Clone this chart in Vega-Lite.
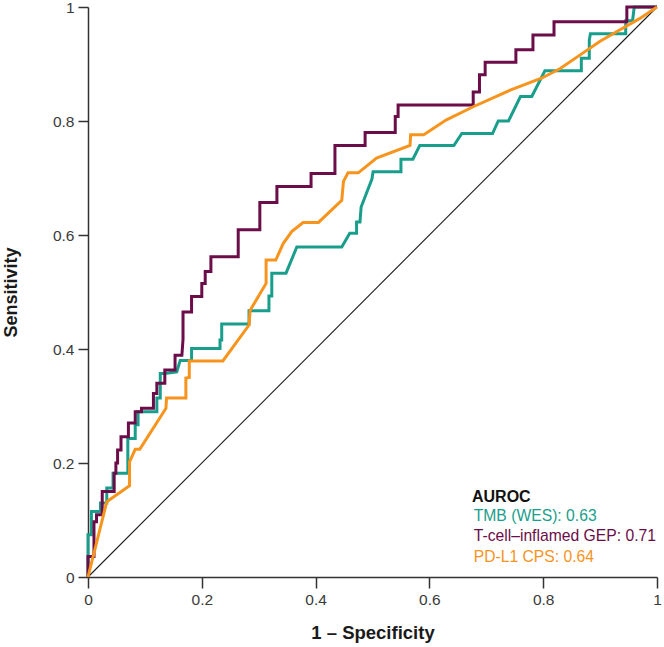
{
  "$schema": "https://vega.github.io/schema/vega-lite/v6.json",
  "width": 569,
  "height": 570,
  "autosize": {"type": "none"},
  "padding": {"left": 88, "top": 7, "right": 7, "bottom": 70},
  "background": "white",
  "config": {
    "view": {"stroke": null},
    "font": "Liberation Sans",
    "axis": {"grid": false}
  },
  "layer": [
    {
      "data": {"values": [{"x": 0, "y": 0}, {"x": 1, "y": 1}]},
      "mark": {"type": "line", "color": "#1a1a1a", "strokeWidth": 1.1},
      "encoding": {
        "x": {"field": "x", "type": "quantitative"},
        "y": {"field": "y", "type": "quantitative"}
      }
    },
    {
      "data": {"values": [
        {"s":"TMB (WES): 0.63","i":1,"x":0,"y":0},
        {"s":"TMB (WES): 0.63","i":2,"x":0,"y":0.074},
        {"s":"TMB (WES): 0.63","i":3,"x":0.006,"y":0.074},
        {"s":"TMB (WES): 0.63","i":4,"x":0.006,"y":0.115},
        {"s":"TMB (WES): 0.63","i":5,"x":0.022,"y":0.115},
        {"s":"TMB (WES): 0.63","i":6,"x":0.022,"y":0.13},
        {"s":"TMB (WES): 0.63","i":7,"x":0.033,"y":0.13},
        {"s":"TMB (WES): 0.63","i":8,"x":0.033,"y":0.156},
        {"s":"TMB (WES): 0.63","i":9,"x":0.044,"y":0.156},
        {"s":"TMB (WES): 0.63","i":10,"x":0.044,"y":0.182},
        {"s":"TMB (WES): 0.63","i":11,"x":0.07,"y":0.182},
        {"s":"TMB (WES): 0.63","i":12,"x":0.07,"y":0.243},
        {"s":"TMB (WES): 0.63","i":13,"x":0.083,"y":0.243},
        {"s":"TMB (WES): 0.63","i":14,"x":0.083,"y":0.267},
        {"s":"TMB (WES): 0.63","i":15,"x":0.088,"y":0.267},
        {"s":"TMB (WES): 0.63","i":16,"x":0.088,"y":0.29},
        {"s":"TMB (WES): 0.63","i":17,"x":0.121,"y":0.29},
        {"s":"TMB (WES): 0.63","i":18,"x":0.121,"y":0.314},
        {"s":"TMB (WES): 0.63","i":19,"x":0.127,"y":0.314},
        {"s":"TMB (WES): 0.63","i":20,"x":0.127,"y":0.357},
        {"s":"TMB (WES): 0.63","i":21,"x":0.135,"y":0.357},
        {"s":"TMB (WES): 0.63","i":22,"x":0.156,"y":0.36},
        {"s":"TMB (WES): 0.63","i":23,"x":0.162,"y":0.38},
        {"s":"TMB (WES): 0.63","i":24,"x":0.182,"y":0.38},
        {"s":"TMB (WES): 0.63","i":25,"x":0.182,"y":0.401},
        {"s":"TMB (WES): 0.63","i":26,"x":0.232,"y":0.401},
        {"s":"TMB (WES): 0.63","i":27,"x":0.232,"y":0.416},
        {"s":"TMB (WES): 0.63","i":28,"x":0.235,"y":0.416},
        {"s":"TMB (WES): 0.63","i":29,"x":0.235,"y":0.444},
        {"s":"TMB (WES): 0.63","i":30,"x":0.283,"y":0.444},
        {"s":"TMB (WES): 0.63","i":31,"x":0.283,"y":0.467},
        {"s":"TMB (WES): 0.63","i":32,"x":0.318,"y":0.467},
        {"s":"TMB (WES): 0.63","i":33,"x":0.318,"y":0.493},
        {"s":"TMB (WES): 0.63","i":34,"x":0.323,"y":0.493},
        {"s":"TMB (WES): 0.63","i":35,"x":0.323,"y":0.533},
        {"s":"TMB (WES): 0.63","i":36,"x":0.348,"y":0.533},
        {"s":"TMB (WES): 0.63","i":37,"x":0.367,"y":0.579},
        {"s":"TMB (WES): 0.63","i":38,"x":0.446,"y":0.579},
        {"s":"TMB (WES): 0.63","i":39,"x":0.46,"y":0.603},
        {"s":"TMB (WES): 0.63","i":40,"x":0.472,"y":0.603},
        {"s":"TMB (WES): 0.63","i":41,"x":0.472,"y":0.623},
        {"s":"TMB (WES): 0.63","i":42,"x":0.478,"y":0.623},
        {"s":"TMB (WES): 0.63","i":43,"x":0.48,"y":0.649},
        {"s":"TMB (WES): 0.63","i":44,"x":0.499,"y":0.698},
        {"s":"TMB (WES): 0.63","i":45,"x":0.501,"y":0.711},
        {"s":"TMB (WES): 0.63","i":46,"x":0.55,"y":0.711},
        {"s":"TMB (WES): 0.63","i":47,"x":0.55,"y":0.733},
        {"s":"TMB (WES): 0.63","i":48,"x":0.571,"y":0.733},
        {"s":"TMB (WES): 0.63","i":49,"x":0.583,"y":0.757},
        {"s":"TMB (WES): 0.63","i":50,"x":0.643,"y":0.757},
        {"s":"TMB (WES): 0.63","i":51,"x":0.657,"y":0.778},
        {"s":"TMB (WES): 0.63","i":52,"x":0.711,"y":0.778},
        {"s":"TMB (WES): 0.63","i":53,"x":0.721,"y":0.8},
        {"s":"TMB (WES): 0.63","i":54,"x":0.739,"y":0.8},
        {"s":"TMB (WES): 0.63","i":55,"x":0.76,"y":0.843},
        {"s":"TMB (WES): 0.63","i":56,"x":0.78,"y":0.843},
        {"s":"TMB (WES): 0.63","i":57,"x":0.803,"y":0.888},
        {"s":"TMB (WES): 0.63","i":58,"x":0.867,"y":0.888},
        {"s":"TMB (WES): 0.63","i":59,"x":0.867,"y":0.91},
        {"s":"TMB (WES): 0.63","i":60,"x":0.881,"y":0.91},
        {"s":"TMB (WES): 0.63","i":61,"x":0.881,"y":0.942},
        {"s":"TMB (WES): 0.63","i":62,"x":0.883,"y":0.953},
        {"s":"TMB (WES): 0.63","i":63,"x":0.945,"y":0.953},
        {"s":"TMB (WES): 0.63","i":64,"x":0.945,"y":0.976},
        {"s":"TMB (WES): 0.63","i":65,"x":0.957,"y":0.976},
        {"s":"TMB (WES): 0.63","i":66,"x":0.96,"y":1},
        {"s":"TMB (WES): 0.63","i":67,"x":1,"y":1},

        {"s":"T-cell–inflamed GEP: 0.71","i":1,"x":0,"y":0},
        {"s":"T-cell–inflamed GEP: 0.71","i":2,"x":0,"y":0.036},
        {"s":"T-cell–inflamed GEP: 0.71","i":3,"x":0.0105,"y":0.036},
        {"s":"T-cell–inflamed GEP: 0.71","i":4,"x":0.0105,"y":0.097},
        {"s":"T-cell–inflamed GEP: 0.71","i":5,"x":0.015,"y":0.097},
        {"s":"T-cell–inflamed GEP: 0.71","i":6,"x":0.015,"y":0.109},
        {"s":"T-cell–inflamed GEP: 0.71","i":7,"x":0.025,"y":0.109},
        {"s":"T-cell–inflamed GEP: 0.71","i":8,"x":0.025,"y":0.15},
        {"s":"T-cell–inflamed GEP: 0.71","i":9,"x":0.046,"y":0.15},
        {"s":"T-cell–inflamed GEP: 0.71","i":10,"x":0.046,"y":0.182},
        {"s":"T-cell–inflamed GEP: 0.71","i":11,"x":0.049,"y":0.182},
        {"s":"T-cell–inflamed GEP: 0.71","i":12,"x":0.049,"y":0.2},
        {"s":"T-cell–inflamed GEP: 0.71","i":13,"x":0.052,"y":0.2},
        {"s":"T-cell–inflamed GEP: 0.71","i":14,"x":0.052,"y":0.223},
        {"s":"T-cell–inflamed GEP: 0.71","i":15,"x":0.058,"y":0.223},
        {"s":"T-cell–inflamed GEP: 0.71","i":16,"x":0.058,"y":0.246},
        {"s":"T-cell–inflamed GEP: 0.71","i":17,"x":0.071,"y":0.246},
        {"s":"T-cell–inflamed GEP: 0.71","i":18,"x":0.071,"y":0.27},
        {"s":"T-cell–inflamed GEP: 0.71","i":19,"x":0.083,"y":0.27},
        {"s":"T-cell–inflamed GEP: 0.71","i":20,"x":0.083,"y":0.29},
        {"s":"T-cell–inflamed GEP: 0.71","i":21,"x":0.094,"y":0.29},
        {"s":"T-cell–inflamed GEP: 0.71","i":22,"x":0.094,"y":0.296},
        {"s":"T-cell–inflamed GEP: 0.71","i":23,"x":0.115,"y":0.296},
        {"s":"T-cell–inflamed GEP: 0.71","i":24,"x":0.115,"y":0.322},
        {"s":"T-cell–inflamed GEP: 0.71","i":25,"x":0.121,"y":0.322},
        {"s":"T-cell–inflamed GEP: 0.71","i":26,"x":0.121,"y":0.34},
        {"s":"T-cell–inflamed GEP: 0.71","i":27,"x":0.135,"y":0.34},
        {"s":"T-cell–inflamed GEP: 0.71","i":28,"x":0.135,"y":0.363},
        {"s":"T-cell–inflamed GEP: 0.71","i":29,"x":0.153,"y":0.363},
        {"s":"T-cell–inflamed GEP: 0.71","i":30,"x":0.153,"y":0.389},
        {"s":"T-cell–inflamed GEP: 0.71","i":31,"x":0.165,"y":0.389},
        {"s":"T-cell–inflamed GEP: 0.71","i":32,"x":0.167,"y":0.417},
        {"s":"T-cell–inflamed GEP: 0.71","i":33,"x":0.167,"y":0.465},
        {"s":"T-cell–inflamed GEP: 0.71","i":34,"x":0.182,"y":0.465},
        {"s":"T-cell–inflamed GEP: 0.71","i":35,"x":0.182,"y":0.492},
        {"s":"T-cell–inflamed GEP: 0.71","i":36,"x":0.2,"y":0.492},
        {"s":"T-cell–inflamed GEP: 0.71","i":37,"x":0.2,"y":0.515},
        {"s":"T-cell–inflamed GEP: 0.71","i":38,"x":0.206,"y":0.515},
        {"s":"T-cell–inflamed GEP: 0.71","i":39,"x":0.206,"y":0.536},
        {"s":"T-cell–inflamed GEP: 0.71","i":40,"x":0.216,"y":0.536},
        {"s":"T-cell–inflamed GEP: 0.71","i":41,"x":0.216,"y":0.562},
        {"s":"T-cell–inflamed GEP: 0.71","i":42,"x":0.264,"y":0.562},
        {"s":"T-cell–inflamed GEP: 0.71","i":43,"x":0.264,"y":0.609},
        {"s":"T-cell–inflamed GEP: 0.71","i":44,"x":0.302,"y":0.609},
        {"s":"T-cell–inflamed GEP: 0.71","i":45,"x":0.302,"y":0.657},
        {"s":"T-cell–inflamed GEP: 0.71","i":46,"x":0.332,"y":0.657},
        {"s":"T-cell–inflamed GEP: 0.71","i":47,"x":0.332,"y":0.685},
        {"s":"T-cell–inflamed GEP: 0.71","i":48,"x":0.392,"y":0.685},
        {"s":"T-cell–inflamed GEP: 0.71","i":49,"x":0.392,"y":0.708},
        {"s":"T-cell–inflamed GEP: 0.71","i":50,"x":0.434,"y":0.708},
        {"s":"T-cell–inflamed GEP: 0.71","i":51,"x":0.434,"y":0.757},
        {"s":"T-cell–inflamed GEP: 0.71","i":52,"x":0.487,"y":0.757},
        {"s":"T-cell–inflamed GEP: 0.71","i":53,"x":0.487,"y":0.78},
        {"s":"T-cell–inflamed GEP: 0.71","i":54,"x":0.54,"y":0.78},
        {"s":"T-cell–inflamed GEP: 0.71","i":55,"x":0.54,"y":0.808},
        {"s":"T-cell–inflamed GEP: 0.71","i":56,"x":0.545,"y":0.808},
        {"s":"T-cell–inflamed GEP: 0.71","i":57,"x":0.545,"y":0.828},
        {"s":"T-cell–inflamed GEP: 0.71","i":58,"x":0.677,"y":0.828},
        {"s":"T-cell–inflamed GEP: 0.71","i":59,"x":0.677,"y":0.851},
        {"s":"T-cell–inflamed GEP: 0.71","i":60,"x":0.688,"y":0.851},
        {"s":"T-cell–inflamed GEP: 0.71","i":61,"x":0.688,"y":0.881},
        {"s":"T-cell–inflamed GEP: 0.71","i":62,"x":0.698,"y":0.881},
        {"s":"T-cell–inflamed GEP: 0.71","i":63,"x":0.698,"y":0.903},
        {"s":"T-cell–inflamed GEP: 0.71","i":64,"x":0.752,"y":0.903},
        {"s":"T-cell–inflamed GEP: 0.71","i":65,"x":0.752,"y":0.925},
        {"s":"T-cell–inflamed GEP: 0.71","i":66,"x":0.782,"y":0.925},
        {"s":"T-cell–inflamed GEP: 0.71","i":67,"x":0.782,"y":0.951},
        {"s":"T-cell–inflamed GEP: 0.71","i":68,"x":0.819,"y":0.951},
        {"s":"T-cell–inflamed GEP: 0.71","i":69,"x":0.819,"y":0.974},
        {"s":"T-cell–inflamed GEP: 0.71","i":70,"x":0.947,"y":0.974},
        {"s":"T-cell–inflamed GEP: 0.71","i":71,"x":0.947,"y":1},
        {"s":"T-cell–inflamed GEP: 0.71","i":72,"x":1,"y":1},

        {"s":"PD-L1 CPS: 0.64","i":1,"x":0,"y":0},
        {"s":"PD-L1 CPS: 0.64","i":2,"x":0.033,"y":0.132},
        {"s":"PD-L1 CPS: 0.64","i":3,"x":0.073,"y":0.16},
        {"s":"PD-L1 CPS: 0.64","i":4,"x":0.073,"y":0.202},
        {"s":"PD-L1 CPS: 0.64","i":5,"x":0.083,"y":0.224},
        {"s":"PD-L1 CPS: 0.64","i":6,"x":0.091,"y":0.224},
        {"s":"PD-L1 CPS: 0.64","i":7,"x":0.137,"y":0.296},
        {"s":"PD-L1 CPS: 0.64","i":8,"x":0.138,"y":0.314},
        {"s":"PD-L1 CPS: 0.64","i":9,"x":0.172,"y":0.314},
        {"s":"PD-L1 CPS: 0.64","i":10,"x":0.172,"y":0.349},
        {"s":"PD-L1 CPS: 0.64","i":11,"x":0.178,"y":0.35},
        {"s":"PD-L1 CPS: 0.64","i":12,"x":0.178,"y":0.379},
        {"s":"PD-L1 CPS: 0.64","i":13,"x":0.237,"y":0.379},
        {"s":"PD-L1 CPS: 0.64","i":14,"x":0.283,"y":0.442},
        {"s":"PD-L1 CPS: 0.64","i":15,"x":0.285,"y":0.468},
        {"s":"PD-L1 CPS: 0.64","i":16,"x":0.313,"y":0.515},
        {"s":"PD-L1 CPS: 0.64","i":17,"x":0.313,"y":0.556},
        {"s":"PD-L1 CPS: 0.64","i":18,"x":0.33,"y":0.556},
        {"s":"PD-L1 CPS: 0.64","i":19,"x":0.343,"y":0.585},
        {"s":"PD-L1 CPS: 0.64","i":20,"x":0.358,"y":0.606},
        {"s":"PD-L1 CPS: 0.64","i":21,"x":0.378,"y":0.622},
        {"s":"PD-L1 CPS: 0.64","i":22,"x":0.405,"y":0.622},
        {"s":"PD-L1 CPS: 0.64","i":23,"x":0.446,"y":0.661},
        {"s":"PD-L1 CPS: 0.64","i":24,"x":0.449,"y":0.694},
        {"s":"PD-L1 CPS: 0.64","i":25,"x":0.457,"y":0.709},
        {"s":"PD-L1 CPS: 0.64","i":26,"x":0.475,"y":0.709},
        {"s":"PD-L1 CPS: 0.64","i":27,"x":0.507,"y":0.735},
        {"s":"PD-L1 CPS: 0.64","i":28,"x":0.566,"y":0.757},
        {"s":"PD-L1 CPS: 0.64","i":29,"x":0.567,"y":0.776},
        {"s":"PD-L1 CPS: 0.64","i":30,"x":0.59,"y":0.776},
        {"s":"PD-L1 CPS: 0.64","i":31,"x":0.63,"y":0.802},
        {"s":"PD-L1 CPS: 0.64","i":32,"x":0.677,"y":0.825},
        {"s":"PD-L1 CPS: 0.64","i":33,"x":0.742,"y":0.854},
        {"s":"PD-L1 CPS: 0.64","i":34,"x":0.797,"y":0.875},
        {"s":"PD-L1 CPS: 0.64","i":35,"x":0.83,"y":0.892},
        {"s":"PD-L1 CPS: 0.64","i":36,"x":0.865,"y":0.916},
        {"s":"PD-L1 CPS: 0.64","i":37,"x":0.9,"y":0.94},
        {"s":"PD-L1 CPS: 0.64","i":38,"x":0.935,"y":0.96},
        {"s":"PD-L1 CPS: 0.64","i":39,"x":0.97,"y":0.98},
        {"s":"PD-L1 CPS: 0.64","i":40,"x":1,"y":1}
      ]},
      "mark": {"type": "line", "strokeWidth": 3, "strokeJoin": "miter", "clip": false},
      "encoding": {
        "x": {
          "field": "x", "type": "quantitative",
          "scale": {"domain": [0, 1], "nice": false, "zero": false},
          "axis": {
            "title": "1 – Specificity",
            "values": [0, 0.2, 0.4, 0.6, 0.8, 1],
            "format": "~g",
            "domainColor": "#333333", "domainWidth": 1.5,
            "tickColor": "#333333", "tickWidth": 1.5, "tickSize": 11,
            "labelColor": "#3a3a3a", "labelFontSize": 15.5, "labelPadding": 4,
            "labelFlush": false,
            "titleFontSize": 18.5, "titleFontWeight": "bold", "titleColor": "#1a1a1a",
            "titlePadding": 16
          }
        },
        "y": {
          "field": "y", "type": "quantitative",
          "scale": {"domain": [0, 1], "nice": false, "zero": false},
          "axis": {
            "title": "Sensitivity",
            "values": [0, 0.2, 0.4, 0.6, 0.8, 1],
            "format": "~g",
            "domainColor": "#333333", "domainWidth": 1.5,
            "tickColor": "#333333", "tickWidth": 1.5, "tickSize": 10,
            "labelColor": "#3a3a3a", "labelFontSize": 15.5, "labelPadding": 4,
            "labelFlush": false,
            "titleFontSize": 18, "titleFontWeight": "bold", "titleColor": "#1a1a1a",
            "titlePadding": 32
          }
        },
        "color": {
          "field": "s", "type": "nominal",
          "scale": {
            "domain": ["TMB (WES): 0.63", "T-cell–inflamed GEP: 0.71", "PD-L1 CPS: 0.64"],
            "range": ["#1A9E8C", "#6B0D48", "#F7941D"]
          },
          "legend": {
            "title": "AUROC",
            "orient": "none",
            "legendX": 384,
            "legendY": 482,
            "titleFontSize": 16,
            "titleFontWeight": "bold",
            "titleColor": "#111111",
            "titlePadding": 3,
            "labelFontSize": 15.7,
            "labelOffset": -14,
            "labelLimit": 400,
            "symbolSize": 0,
            "symbolStrokeWidth": 0,
            "symbolOpacity": 0,
            "rowPadding": 3.6,
            "encode": {
              "labels": {"update": {"fill": {"scale": "color", "field": "value"}}}
            }
          }
        },
        "order": {"field": "i", "type": "quantitative"}
      }
    }
  ]
}
